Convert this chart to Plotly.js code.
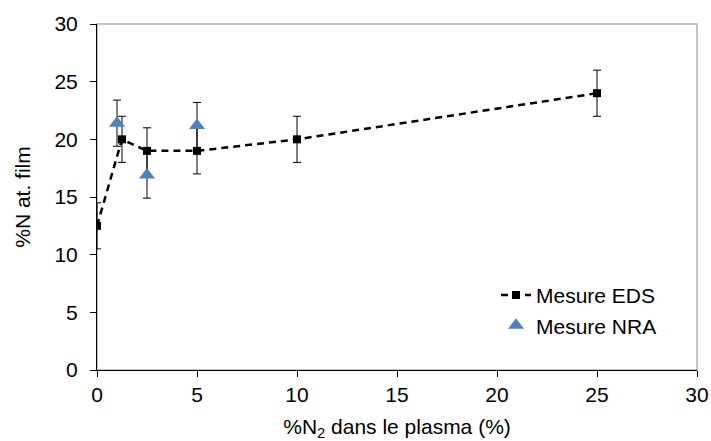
<!DOCTYPE html>
<html>
<head>
<meta charset="utf-8">
<script src="https://cdn.plot.ly/plotly-3.0.1.min.js"></script>
<style>html,body{margin:0;padding:0;background:#fff}#chart{width:711px;height:441px}</style>
</head>
<body>
<div id="chart"></div>
<script>
// Data
const edsX = [0, 1.25, 2.5, 5, 10, 25];
const edsY = [12.5, 20, 19, 19, 20, 24];
const edsErr = [2, 2, 2, 2, 2, 2];

const nraX = [1, 2.5, 5];
const nraY = [21.4, 16.9, 21.2];
const nraErr = [2, 2, 2];

const xTicks = [0, 5, 10, 15, 20, 25, 30];
const yTicks = [0, 5, 10, 15, 20, 25, 30];

const font = {family: '"Liberation Sans", Arial, sans-serif', size: 21, color: '#000'};

const traces = [
  {
    x: edsX, y: edsY, name: 'Mesure EDS', type: 'scatter', mode: 'lines+markers',
    line: {color: '#000', width: 2.5, dash: '7px,5px'},
    marker: {symbol: 'square', size: 8, color: '#000'},
    error_y: {type: 'data', array: edsErr, visible: true, color: '#000', thickness: 1, width: 4}
  },
  {
    x: nraX, y: nraY, name: 'Mesure NRA', type: 'scatter', mode: 'markers',
    marker: {symbol: 'triangle-up', size: 14, color: '#4F81BD'},
    error_y: {type: 'data', array: nraErr, visible: true, color: '#000', thickness: 1, width: 4}
  }
];

const layout = {
  width: 711, height: 441,
  margin: {l: 97, r: 14, t: 24, b: 71},
  paper_bgcolor: '#fff', plot_bgcolor: '#fff',
  font: font,
  showlegend: true,
  legend: {x: 0.665, y: 0.275, xanchor: 'left', yanchor: 'top', bgcolor: 'rgba(0,0,0,0)', font: font, tracegroupgap: 0},
  xaxis: {
    range: [0, 30], tickvals: xTicks, ticktext: xTicks.map(String),
    showgrid: false, zeroline: false, showline: true, linecolor: '#000', linewidth: 1,
    ticks: 'outside', ticklen: 6, tickcolor: '#000', tickfont: font,
    title: {text: '%N<sub>2</sub> dans le plasma (%)', font: font, standoff: 14}
  },
  yaxis: {
    range: [0, 30], tickvals: yTicks, ticktext: yTicks.map(String),
    showgrid: false, zeroline: false, showline: true, linecolor: '#000', linewidth: 1,
    ticks: 'outside', ticklen: 6, tickcolor: '#000', tickfont: font, ticklabelstandoff: 8,
    title: {text: '%N at. film', font: font, standoff: 18}
  },
  shapes: [{
    type: 'rect', xref: 'paper', yref: 'paper', x0: 0, x1: 1, y0: 0, y1: 1,
    line: {color: '#b3b3b3', width: 1.5}, layer: 'below'
  }]
};

Plotly.newPlot('chart', traces, layout, {displayModeBar: false, staticPlot: true});
</script>
</body>
</html>
